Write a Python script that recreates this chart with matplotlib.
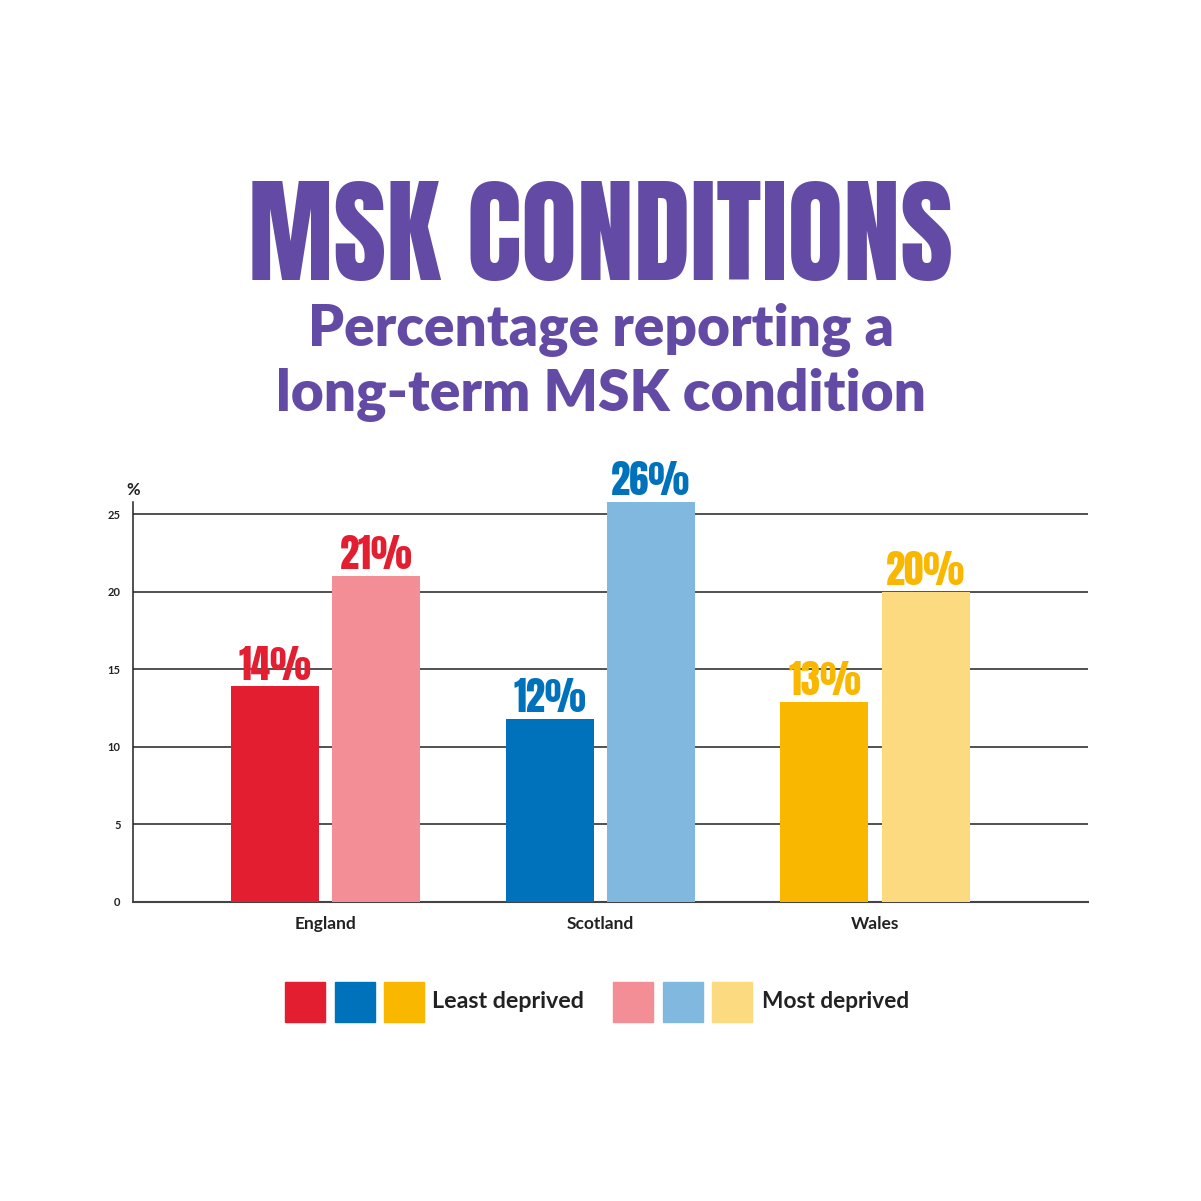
import numpy as np
import matplotlib
matplotlib.use('Agg')
import matplotlib.pyplot as plt
from matplotlib import font_manager as fm
from matplotlib.patches import Rectangle

# data
countries = ['England', 'Scotland', 'Wales']
least_deprived = [13.9, 11.8, 12.9]
most_deprived = [21.0, 25.8, 20.0]
least_labels = ['14%', '12%', '13%']
most_labels = ['21%', '26%', '20%']
yticks = [0, 5, 10, 15, 20, 25]

least_colors = ['#E41E31', '#0072BC', '#F9B700']
most_colors = ['#F38E97', '#80B8DF', '#FCDA80']
purple = '#634BA5'
dark = '#222222'


def wnum(w):
    try:
        return int(w)
    except (TypeError, ValueError):
        return {'bold': 700, 'heavy': 800, 'black': 900, 'semibold': 600,
                'demibold': 600, 'extra bold': 800}.get(str(w).lower(), 400)


names = {f.name for f in fm.fontManager.ttflist}
cands = ['Anton', 'Oswald', 'Bebas Neue', 'Fjalla One', 'League Gothic',
         'Roboto Condensed', 'Barlow Condensed', 'Archivo Narrow', 'PT Sans Narrow',
         'Liberation Sans Narrow', 'Open Sans Condensed', 'Fira Sans Condensed',
         'IBM Plex Sans Condensed', 'Noto Sans Condensed', 'DejaVu Sans Condensed']
cond = None
for c in cands:
    if c in names:
        cond = fm.FontProperties(family=c, weight='bold')
        break
if cond is None:
    for f in fm.fontManager.ttflist:
        if 'CJK' in f.name:
            continue
        if ('condensed' in str(f.stretch) or 'Condensed' in f.name or 'Narrow' in f.name) \
                and wnum(f.weight) >= 700:
            cond = fm.FontProperties(fname=f.fname)
            break
if cond is None:
    cond = fm.FontProperties(family='DejaVu Sans', weight='bold')

sans = 'Lato' if 'Lato' in names else 'DejaVu Sans'

fig = plt.figure(figsize=(12.01, 12.01), dpi=100)
renderer = fig.canvas.get_renderer()


def fit(t, width_px):
    bb = t.get_window_extent(renderer)
    t.set_fontsize(t.get_fontsize() * width_px / bb.width)
    return t.get_fontsize()


# size of the value labels, measured on a throwaway text
tmp = fig.text(0.5, 0.5, '14%', fontproperties=cond, fontsize=30)
lab_fs = fit(tmp, 73)
tmp.remove()

ax = fig.add_axes([133/1201, 1-902/1201, (1088-133)/1201, (902-502)/1201])

x = np.arange(len(countries))
w = 0.32
off = 0.184
ax.bar(x-off, least_deprived, w, color=least_colors, zorder=3)
ax.bar(x+off, most_deprived, w, color=most_colors, zorder=3)

for xi, v, lab, c in zip(x, least_deprived, least_labels, least_colors):
    ax.annotate(lab, (xi-off, v), xytext=(0, 5), textcoords='offset points',
                ha='center', va='baseline', color=c, fontproperties=cond, fontsize=lab_fs)
for xi, v, lab, c in zip(x, most_deprived, most_labels, least_colors):
    ax.annotate(lab, (xi+off, v), xytext=(0, 5), textcoords='offset points',
                ha='center', va='baseline', color=c, fontproperties=cond, fontsize=lab_fs)

ax.set_xlim(-0.70, 2.775)
ax.set_ylim(0, 25.8)
ax.set_yticks(yticks)
ax.set_yticklabels([str(t) for t in yticks], fontsize=8, fontweight='bold', color=dark,
                   family=sans)
ax.set_xticks(x)
ax.set_xticklabels(countries, fontsize=12.5, fontweight='bold', color=dark, family=sans)
ax.tick_params(axis='both', length=0)
ax.tick_params(axis='y', pad=9)
ax.tick_params(axis='x', pad=10)
for t in yticks[1:]:
    ax.axhline(t, color=dark, lw=1.1, zorder=1)
for s in ['top', 'right']:
    ax.spines[s].set_visible(False)
ax.spines['left'].set_color(dark)
ax.spines['left'].set_linewidth(1.1)
ax.spines['bottom'].set_color('#444444')
ax.spines['bottom'].set_linewidth(1.5)
ax.text(0, 1.01, '%', transform=ax.transAxes, ha='center', va='bottom',
        fontsize=12, fontweight='bold', color=dark, family=sans)

# titles
title = fig.text(0.5, 1-280/1201, 'MSK CONDITIONS', ha='center', va='baseline',
                 color=purple, fontproperties=cond, fontsize=80)
fit(title, 705)
sub1 = fig.text(0.5, 1-346/1201, 'Percentage reporting a', ha='center', va='baseline',
                fontsize=40, fontweight='heavy', color=purple, family=sans)
sub2 = fig.text(0.5, 1-411/1201, 'long-term MSK condition', ha='center', va='baseline',
                fontsize=40, fontweight='heavy', color=purple, family=sans)
sfs = fit(sub2, 648)
sub1.set_fontsize(sfs)

# legend
sq = 40
for x0, c in zip([285, 335, 384], least_colors):
    fig.patches.append(Rectangle((x0/1201, 1-1022/1201), sq/1201, sq/1201,
                                 color=c, transform=fig.transFigure))
leg1 = fig.text(432/1201, 1-1001/1201, 'Least deprived', ha='left', va='center',
                fontsize=15, fontweight='bold', color=dark, family=sans)
for x0, c in zip([613, 663, 712], most_colors):
    fig.patches.append(Rectangle((x0/1201, 1-1022/1201), sq/1201, sq/1201,
                                 color=c, transform=fig.transFigure))
leg2 = fig.text(762/1201, 1-1001/1201, 'Most deprived', ha='left', va='center',
                fontsize=15, fontweight='bold', color=dark, family=sans)
fit(leg1, 153)
fit(leg2, 148)

fig.savefig('out.png', dpi=100)
